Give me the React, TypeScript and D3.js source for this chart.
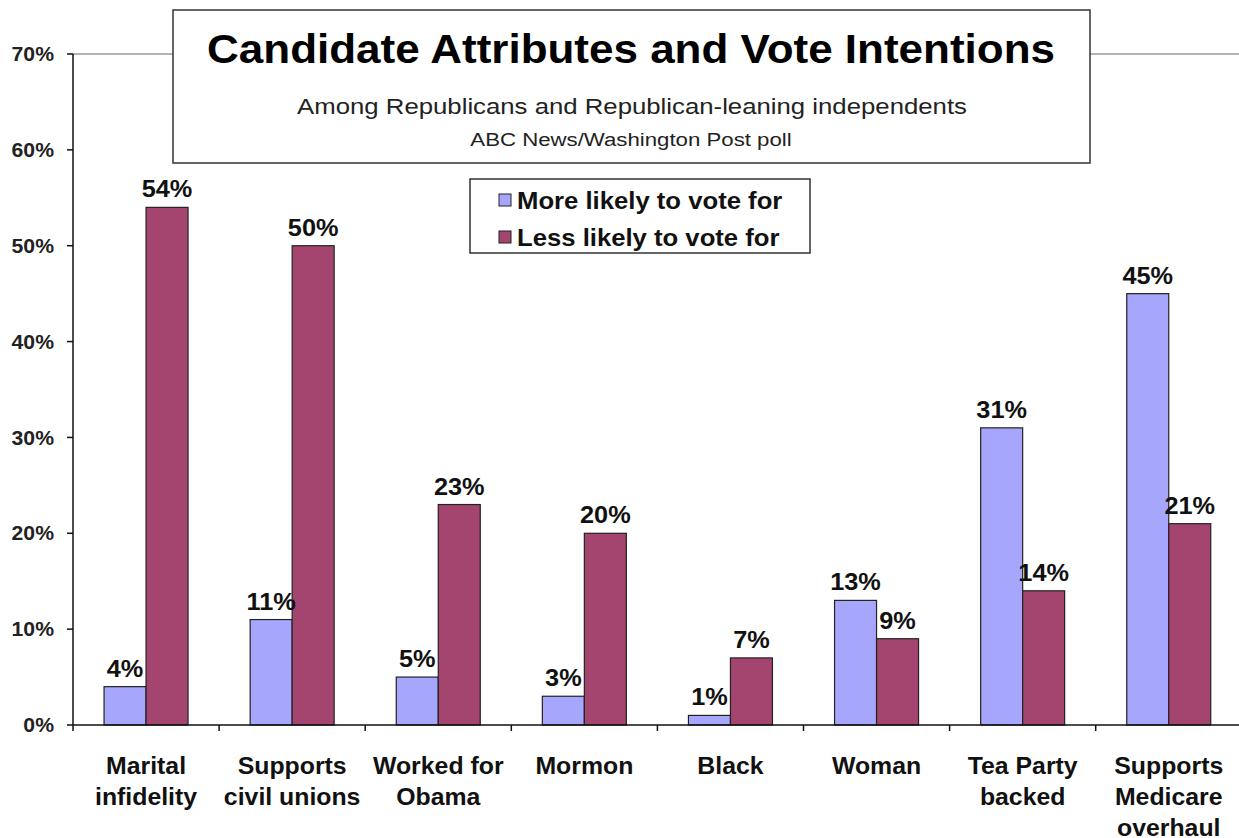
import React from "react";
import * as d3 from "d3";

const categories = [
  "Marital infidelity",
  "Supports civil unions",
  "Worked for Obama",
  "Mormon",
  "Black",
  "Woman",
  "Tea Party backed",
  "Supports Medicare overhaul",
];
const categoryLines = [
  ["Marital", "infidelity"],
  ["Supports", "civil unions"],
  ["Worked for", "Obama"],
  ["Mormon"],
  ["Black"],
  ["Woman"],
  ["Tea Party", "backed"],
  ["Supports", "Medicare", "overhaul"],
];
const moreLikely = [4, 11, 5, 3, 1, 13, 31, 45];
const lessLikely = [54, 50, 23, 20, 7, 9, 14, 21];
const seriesNames = ["More likely to vote for", "Less likely to vote for"];
const yTicks = [0, 10, 20, 30, 40, 50, 60, 70];

const W = 1239;
const H = 838;
const FONT = "Arial, 'Liberation Sans', Helvetica, sans-serif";
const BLUE = "#a6a6fd";
const RED = "#a4456f";

type STProps = {
  x: number;
  y: number;
  sx: number;
  anchor?: "start" | "middle" | "end";
  size: number;
  bold?: boolean;
  fill?: string;
  dy?: string;
  children: React.ReactNode;
};

function ST({ x, y, sx, anchor = "middle", size, bold, fill = "#111", dy, children }: STProps) {
  return (
    <text
      transform={`translate(${x},${y}) scale(${sx},1)`}
      textAnchor={anchor}
      fontSize={size}
      fontWeight={bold ? "bold" : "normal"}
      fill={fill}
      dy={dy}
    >
      {children}
    </text>
  );
}

export default function App() {
  const x0 = 73;
  const x1 = 73 + 8 * 146.1;
  const yTop = 54;
  const yBot = 725;
  const x = d3.scaleBand<string>().domain(categories).range([x0, x1]).padding(0);
  const y = d3.scaleLinear().domain([0, 70]).range([yBot, yTop]);
  const groupW = 84;
  const xs = d3
    .scaleBand<string>()
    .domain(["more", "less"])
    .range([(x.bandwidth() - groupW) / 2, (x.bandwidth() + groupW) / 2])
    .padding(0);
  const series = [
    { key: "more", values: moreLikely, color: BLUE },
    { key: "less", values: lessLikely, color: RED },
  ];
  const boundaries = d3.range(categories.length + 1).map((i) => x0 + i * x.bandwidth());

  return (
    <svg
      width={W}
      height={H}
      style={{ position: "absolute", left: 0, top: 0, background: "#fff" }}
      fontFamily={FONT}
    >
      <rect x={0} y={0} width={W} height={H} fill="#fff" />
      {/* plot top border */}
      <line x1={x0} x2={W} y1={y(70)} y2={y(70)} stroke="#9a9a9a" strokeWidth={1.5} />

      {/* bars */}
      {series.map((s) =>
        categories.map((c, i) => (
          <rect
            key={s.key + c}
            x={(x(c) as number) + (xs(s.key) as number)}
            y={y(s.values[i])}
            width={xs.bandwidth()}
            height={yBot - y(s.values[i])}
            fill={s.color}
            stroke="#222"
            strokeWidth={1.2}
          />
        ))
      )}

      {/* value labels */}
      {series.map((s) =>
        categories.map((c, i) => (
          <ST
            key={"l" + s.key + c}
            x={(x(c) as number) + (xs(s.key) as number) + xs.bandwidth() / 2}
            y={y(s.values[i]) - 10}
            sx={1.1}
            size={23}
            bold
          >
            {s.values[i]}%
          </ST>
        ))
      )}

      {/* y axis */}
      <line x1={x0} x2={x0} y1={yTop} y2={yBot} stroke="#111" strokeWidth={1.5} />
      {yTicks.map((t) => (
        <g key={"yt" + t}>
          <line x1={x0 - 6} x2={x0} y1={y(t)} y2={y(t)} stroke="#111" strokeWidth={1.5} />
          <ST x={54} y={y(t)} dy="0.36em" anchor="end" sx={1.06} size={20} bold fill="#222">
            {t}%
          </ST>
        </g>
      ))}

      {/* x axis */}
      <line x1={x0} x2={x1} y1={yBot} y2={yBot} stroke="#111" strokeWidth={1.5} />
      {boundaries.map((b, i) => (
        <line key={"xt" + i} x1={b} x2={b} y1={yBot} y2={yBot + 6} stroke="#111" strokeWidth={1.5} />
      ))}
      {categories.map((c, i) =>
        categoryLines[i].map((ln, j) => (
          <ST
            key={"xl" + c + j}
            x={(x(c) as number) + x.bandwidth() / 2}
            y={774 + j * 31}
            sx={1.08}
            size={23}
            bold
          >
            {ln}
          </ST>
        ))
      )}

      {/* title box */}
      <rect x={173} y={10} width={917} height={153} fill="#fff" stroke="#333" strokeWidth={1.5} />
      <ST x={631} y={63} sx={1.1} size={40} bold fill="#000">
        Candidate Attributes and Vote Intentions
      </ST>
      <ST x={632} y={114} sx={1.12} size={23} fill="#222">
        Among Republicans and Republican-leaning independents
      </ST>
      <ST x={631} y={146} sx={1.17} size={19} fill="#222">
        ABC News/Washington Post poll
      </ST>

      {/* legend */}
      <rect x={470} y={179} width={340} height={74} fill="#fff" stroke="#333" strokeWidth={1.5} />
      {seriesNames.map((n, i) => (
        <g key={n}>
          <rect
            x={499}
            y={194 + i * 37}
            width={12}
            height={12}
            fill={series[i].color}
            stroke="#222"
            strokeWidth={1}
          />
          <ST x={517} y={209 + i * 37} anchor="start" sx={1.07} size={24} bold>
            {n}
          </ST>
        </g>
      ))}
    </svg>
  );
}
